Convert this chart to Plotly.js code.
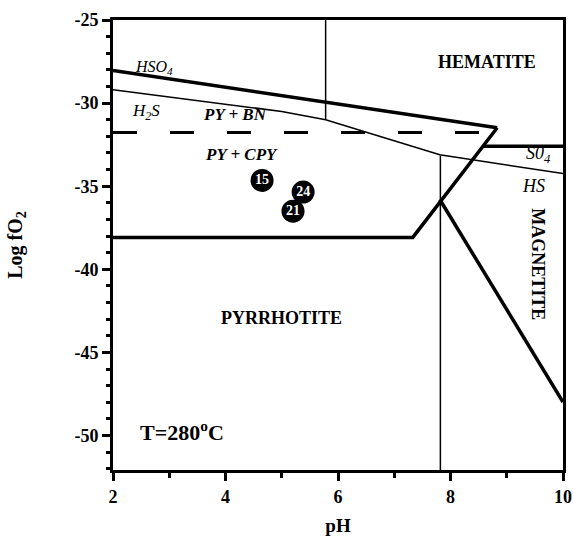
<!DOCTYPE html>
<html><head><meta charset="utf-8">
<script src="https://cdn.plot.ly/plotly-3.0.1.min.js"></script>
<style>body{margin:0;background:#fff}#c{width:573px;height:536px}</style>
</head><body><div id="c"></div>
<script>
// Boundaries (pH, log fO2)
const hso4BoundaryPH = [2, 8.83];
const hso4BoundaryLogF = [-28.04, -31.48];
const h2sBoundaryPH = [2, 5.0, 5.78, 7.81, 10];
const h2sBoundaryLogF = [-29.2, -30.5, -31.0, -33.1, -34.24];
const pyField_PH = [8.83, 7.33, 2];
const pyField_LogF = [-31.48, -38.08, -38.08];
const magnetiteBoundaryPH = [7.81, 10];
const magnetiteBoundaryLogF = [-35.8, -47.98];
const so4BoundaryPH = [8.58, 10];
const so4BoundaryLogF = [-32.6, -32.6];
const dashedPH = [2, 8.55];
const dashedLogF = [-31.76, -31.76];
const vert1PH = [5.78, 5.78];
const vert1LogF = [-25, -31.0];
const vert2PH = [7.82, 7.82];
const vert2LogF = [-33.15, -52.07];
// Samples
const sampleLabels = ['15', '24', '21'];
const samplePH = [4.65, 5.38, 5.2];
const sampleLogF = [-34.65, -35.35, -36.5];
// Tick labels
const xTickVals = [2, 4, 6, 8, 10];
const xTickText = ['2', '4', '6', '8', '10'];
const yTickVals = [-25, -30, -35, -40, -45, -50];
const yTickText = ['-25', '-30', '-35', '-40', '-45', '-50'];

const serif = 'Liberation Serif';
const thick = {color: '#000', width: 3.5};
const thin = {color: '#000', width: 1.5};
function ln(x, y, line) { return {x, y, mode: 'lines', line, hoverinfo: 'skip', showlegend: false}; }

const traces = [
  ln(hso4BoundaryPH, hso4BoundaryLogF, thick),
  ln(h2sBoundaryPH, h2sBoundaryLogF, thin),
  ln(pyField_PH, pyField_LogF, thick),
  ln(magnetiteBoundaryPH, magnetiteBoundaryLogF, thick),
  ln(so4BoundaryPH, so4BoundaryLogF, thick),
  ln(dashedPH, dashedLogF, {color: '#000', width: 3, dash: '24px,33px'}),
  ln(vert1PH, vert1LogF, thin),
  ln(vert2PH, vert2LogF, thin),
  {x: samplePH, y: sampleLogF, text: sampleLabels.map(s => '<b>' + s + '</b>'), mode: 'markers+text', textposition: 'middle center',
   marker: {size: 23, color: '#000'}, textfont: {family: serif, size: 14, color: '#fff'},
   showlegend: false, hoverinfo: 'skip'}
];

const ann = (x, y, text, size, opts) => Object.assign({x, y, xref: 'x', yref: 'y', text, showarrow: false,
  font: {family: serif, size: size, color: '#000'}}, opts || {});

const layout = {
  width: 573, height: 536,
  margin: {l: 113, r: 10, t: 20, b: 66},
  paper_bgcolor: '#fff', plot_bgcolor: '#fff',
  font: {family: serif, color: '#000'},
  xaxis: {range: [2, 10], tickmode: 'array', tickvals: xTickVals, ticktext: xTickText.map(s => '<b>' + s + '</b>'),
    ticks: 'outside', ticklen: 8, tickwidth: 3, tickcolor: '#000',
    showgrid: false, zeroline: false, showline: true, linewidth: 3, linecolor: '#000', mirror: true,
    minor: {dtick: 1, tick0: 2, ticks: 'outside', ticklen: 5, tickwidth: 3, tickcolor: '#000', showgrid: false},
    tickfont: {family: serif, size: 18, color: '#000'},
    title: {text: '<b>pH</b>', font: {family: serif, size: 19, color: '#000'}, standoff: 15}},
  yaxis: {range: [-52.07, -25], tickmode: 'array', tickvals: yTickVals, ticktext: yTickText.map(s => '<b>' + s + '</b>'),
    ticks: 'outside', ticklen: 8, tickwidth: 3, tickcolor: '#000',
    showgrid: false, zeroline: false, showline: true, linewidth: 3, linecolor: '#000', mirror: true,
    minor: {dtick: 1, tick0: -25, ticks: 'outside', ticklen: 4, tickwidth: 3, tickcolor: '#000', showgrid: false},
    tickfont: {family: serif, size: 18, color: '#000'},
    title: {text: '<b>Log fO<sub>2</sub></b>', font: {family: serif, size: 20, color: '#000'}, standoff: 47}},
  annotations: [
    ann(2.72, -27.85, '<i>HSO<sub>4</sub></i>', 16),
    ann(2.59, -30.52, '<i>H<sub>2</sub>S</i>', 17),
    ann(4.17, -30.70, '<i><b>PY + BN</b></i>', 17),
    ann(4.28, -33.1, '<i><b>PY + CPY</b></i>', 17),
    ann(8.65, -27.52, '<b>HEMATITE</b>', 18),
    ann(9.56, -33.1, '<i>S0<sub>4</sub></i>', 18),
    ann(9.48, -35.0, '<i>HS</i>', 18),
    ann(9.54, -39.7, '<b>MAGNETITE</b>', 18, {textangle: 90}),
    ann(5.0, -42.9, '<b>PYRRHOTITE</b>', 18),
    ann(3.23, -49.7, '<b>T=280<sup>o</sup>C</b>', 22)
  ]
};
Plotly.newPlot('c', traces, layout, {staticPlot: true, displayModeBar: false});
</script></body></html>
